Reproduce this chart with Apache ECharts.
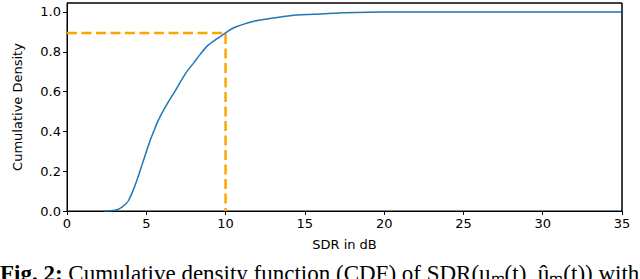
<!DOCTYPE html>
<html>
<head>
<meta charset="utf-8">
<script src="https://cdn.jsdelivr.net/npm/echarts@6/dist/echarts.min.js"></script>
<style>
html,body{margin:0;padding:0;background:#fff;overflow:hidden;}
#chart{width:640px;height:279px;}
</style>
</head>
<body>
<div id="chart"></div>
<script>
// CDF of SDR
const sdrValues = [2.35, 2.8, 3.15, 3.47, 3.7, 3.89, 4.15, 4.41, 4.62, 4.83, 5.05, 5.25, 5.47, 5.67, 5.88, 6.09, 6.4, 6.72, 7.05, 7.35, 7.65, 7.98, 8.4, 8.82, 9.4, 9.98, 10.35, 10.72, 11.2, 11.77, 12.4, 13.0, 13.8, 14.7, 15.96, 17.5, 20.0, 25.0, 30.0, 35.0];
const cdfValues = [0.0, 0.001, 0.006, 0.02, 0.035, 0.054, 0.1, 0.155, 0.205, 0.256, 0.31, 0.356, 0.4, 0.44, 0.475, 0.507, 0.55, 0.59, 0.635, 0.675, 0.71, 0.743, 0.787, 0.827, 0.862, 0.894, 0.913, 0.927, 0.94, 0.953, 0.962, 0.97, 0.979, 0.986, 0.99, 0.996, 1.0, 1.0, 1.0, 1.0];
// Marker for SDR = 10 dB
const markerX = [0, 10, 10];
const markerY = [0.894, 0.894, 0.0];
const xTicks = [0, 5, 10, 15, 20, 25, 30, 35];
const yTicks = [0, 0.2, 0.4, 0.6, 0.8, 1.0];
const xRange = [0, 35];
const yRange = [0, 1.045];
const captionText = 'Cumulative density function (CDF) of SDR(u\u2098(t), \u00fb\u2098(t)) with';

const chart = echarts.init(document.getElementById('chart'), null, {renderer: 'svg'});
const font = 'DejaVu Sans';
chart.setOption({
  animation: false,
  backgroundColor: '#fff',
  grid: {left: 67, right: 18, top: 3, bottom: 68, show: true, borderColor: '#000', borderWidth: 1, backgroundColor: 'rgba(0,0,0,0)'},
  xAxis: {
    type: 'value', min: xRange[0], max: xRange[1], interval: 5,
    name: 'SDR in dB', nameLocation: 'middle', nameGap: 27,
    nameTextStyle: {fontFamily: font, fontSize: 13, color: '#000'},
    axisLine: {show: true, onZero: false, lineStyle: {color: '#000', width: 1}},
    axisTick: {show: true, length: 4, lineStyle: {color: '#000'}, customValues: xTicks},
    axisLabel: {fontFamily: font, fontSize: 13, color: '#000', margin: 6, customValues: xTicks},
    splitLine: {show: false}
  },
  yAxis: {
    type: 'value', min: yRange[0], max: yRange[1],
    name: 'Cumulative Density', nameLocation: 'middle', nameGap: 43,
    nameTextStyle: {fontFamily: font, fontSize: 13, color: '#000'},
    axisLine: {show: true, onZero: false, lineStyle: {color: '#000', width: 1}},
    axisTick: {show: true, length: 4, lineStyle: {color: '#000'}, customValues: yTicks},
    axisLabel: {fontFamily: font, fontSize: 13, color: '#000', margin: 6, customValues: yTicks,
      formatter: v => v.toFixed(1)},
    splitLine: {show: false}
  },
  series: [
    {
      type: 'line', name: 'CDF', showSymbol: false, smooth: 0.2,
      data: sdrValues.map((x, i) => [x, cdfValues[i]]),
      lineStyle: {color: '#1f77b4', width: 1.5}, z: 3
    },
    {
      type: 'line', name: 'marker', showSymbol: false,
      data: markerX.map((x, i) => [x, markerY[i]]),
      lineStyle: {color: '#FFA500', width: 2.5, type: [10, 4.5]}, z: 2
    },
    {
      type: 'line', name: 'frame', showSymbol: false, silent: true, clip: false,
      data: [[xRange[0], yRange[1]], [xRange[1], yRange[1]], [xRange[1], yRange[0]]],
      lineStyle: {color: '#000', width: 1}, z: 4
    }
  ],
  graphic: [{
    type: 'text', left: 0, top: 262,
    style: {
      text: '{b|Fig. 2:} ' + captionText,
      fontFamily: 'Liberation Serif', fontSize: 23, fill: '#000',
      rich: {b: {fontWeight: 'bold', fontFamily: 'Liberation Serif', fontSize: 23}}
    }
  }]
});
</script>
</body>
</html>
